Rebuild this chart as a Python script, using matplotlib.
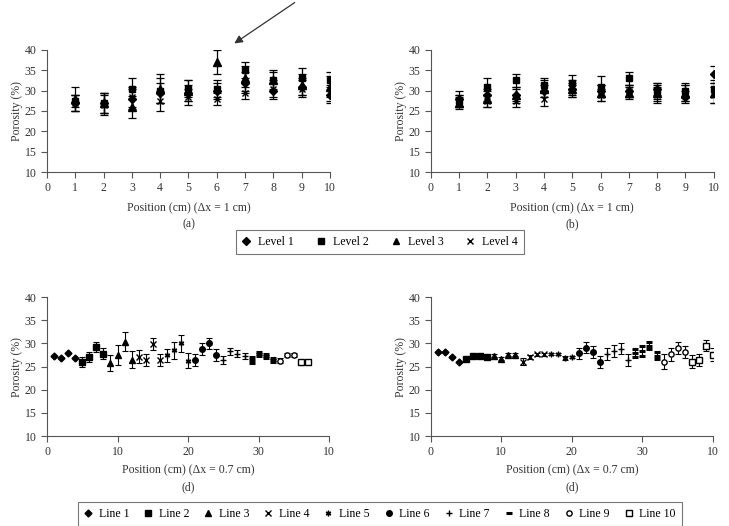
import matplotlib
matplotlib.use("Agg")
import matplotlib.pyplot as plt
import numpy as np

plt.rcParams['font.family'] = ['Liberation Serif', 'DejaVu Serif']
plt.rcParams['font.size'] = 8.5

# ---- top panels: 4 levels at positions 1..10 ----
pos_top = [1, 2, 3, 4, 5, 6, 7, 8, 9, 10]
level_names = ['Level 1', 'Level 2', 'Level 3', 'Level 4']

a_vals = [
    [27.0, 27.0, 28.0, 29.5, 29.5, 30.0, 32.0, 30.0, 31.0, 29.0],
    [27.5, 27.0, 30.5, 30.0, 30.5, 30.5, 35.0, 32.5, 33.0, 32.5],
    [28.0, 27.0, 26.0, 30.5, 30.0, 37.0, 33.0, 32.5, 31.5, 31.0],
    [27.0, 26.5, 28.5, 27.5, 28.5, 28.0, 29.5, 30.5, 30.5, 29.5],
]
a_errs = [
    [2.0, 2.5, 2.5, 2.5, 2.0, 2.0, 2.5, 2.0, 2.0, 2.0],
    [1.5, 2.5, 2.5, 3.0, 2.0, 2.0, 2.0, 2.5, 2.5, 2.0],
    [3.0, 2.5, 2.8, 3.5, 2.5, 3.0, 3.0, 2.0, 2.5, 2.5],
    [2.0, 2.5, 2.5, 2.5, 2.0, 1.5, 1.5, 2.0, 2.0, 2.0],
]

b_vals = [
    [28.0, 29.0, 29.0, 30.0, 30.5, 30.0, 30.0, 30.5, 28.5, 34.0],
    [27.5, 31.0, 32.5, 31.5, 32.0, 31.0, 33.0, 30.0, 30.0, 30.5],
    [27.0, 28.0, 29.0, 30.5, 30.5, 29.5, 29.5, 29.5, 29.5, 29.5],
    [27.5, 27.5, 27.5, 28.0, 30.0, 29.0, 30.0, 29.0, 29.5, 29.0],
]
b_errs = [
    [1.8, 1.5, 1.5, 1.5, 1.5, 1.5, 1.5, 1.5, 1.5, 2.0],
    [1.5, 2.0, 1.5, 1.5, 1.8, 2.5, 1.5, 2.0, 1.8, 2.0],
    [1.5, 2.0, 2.0, 2.0, 2.0, 2.0, 1.5, 2.0, 2.0, 2.5],
    [1.5, 1.5, 1.5, 1.8, 1.5, 1.5, 1.5, 2.0, 2.0, 2.0],
]

# ---- bottom panels: 10 lines ----
line_names = ['Line 1', 'Line 2', 'Line 3', 'Line 4', 'Line 5',
              'Line 6', 'Line 7', 'Line 8', 'Line 9', 'Line 10']

c_pos = [[1, 2, 3, 4], [5, 6, 7, 8], [9, 10, 11, 12], [13, 14, 15, 16],
         [17, 18, 19, 20], [21, 22, 23, 24], [25, 26, 27, 28],
         [29, 30, 31, 32], [33, 34, 35], [36, 37]]
c_vals = [[27.3, 26.8, 28.0, 26.8], [26.0, 27.0, 29.3, 27.8],
          [25.8, 27.5, 30.4, 26.5], [27.1, 26.4, 29.8, 26.5],
          [27.5, 28.5, 30.0, 26.3], [26.4, 28.9, 30.0, 27.6],
          [26.4, 28.3, 27.8, 27.3], [26.4, 27.8, 27.3, 26.4],
          [26.3, 27.5, 27.5], [25.9, 26.0]]
c_errs = [[0, 0, 0, 0], [1.15, 1.1, 1.1, 1.2],
          [1.7, 2.1, 2.0, 1.9], [1.4, 1.3, 1.3, 1.3],
          [1.4, 1.8, 1.8, 1.6], [1.3, 1.3, 1.2, 1.3],
          [0.8, 0.7, 0.7, 0.7], [0.65, 0.45, 0.5, 0.5],
          [0.5, 0.4, 0.4], [0.5, 0]]

d_pos = [[1, 2, 3, 4], [5, 6, 7, 8], [9, 10, 11, 12], [13, 14, 15, 16],
         [17, 18, 19, 20], [21, 22, 23, 24], [25, 26, 27, 28],
         [29, 30, 31, 32], [33, 34, 35, 36], [37, 38, 39, 40]]
d_vals = [[28.2, 28.2, 27.1, 26.1], [26.7, 27.2, 27.2, 27.1],
          [27.4, 26.7, 27.6, 27.6], [26.1, 27.1, 27.7, 27.7],
          [27.8, 27.7, 26.9, 27.1], [27.9, 29.1, 28.2, 26.0],
          [27.7, 28.4, 28.9, 26.4], [27.9, 28.3, 29.5, 27.4],
          [26.1, 27.7, 29.1, 28.1], [26.1, 26.4, 29.5, 27.6]]
d_errs = [[0, 0, 0, 0], [0.3, 0.2, 0.2, 0.2],
          [0.4, 0.3, 0.3, 0.3], [0.7, 0.5, 0.3, 0.3],
          [0.2, 0.2, 0.4, 0.3], [1.2, 1.25, 1.25, 1.25],
          [1.25, 1.3, 1.25, 1.25], [0.8, 1.1, 0.8, 0.8],
          [1.6, 1.4, 1.3, 1.25], [1.4, 1.25, 1.2, 1.35]]

level_styles = [dict(marker='D', ms=4.5, mfc='black'),
                dict(marker='s', ms=5, mfc='black'),
                dict(marker='^', ms=6, mfc='black'),
                dict(marker='x', ms=5, mfc='black')]
line_styles = [dict(marker='D', ms=3.5, mfc='black'),
               dict(marker='s', ms=3.8, mfc='black'),
               dict(marker='^', ms=4.5, mfc='black'),
               dict(marker='x', ms=3.8, mfc='black'),
               dict(marker=(6, 2, 0), ms=4, mfc='black'),
               dict(marker='o', ms=4, mfc='black'),
               dict(marker='+', ms=4.5, mfc='black'),
               dict(marker='_', ms=4, mfc='black', mew=2.2),
               dict(marker='o', ms=3.8, mfc='white'),
               dict(marker='s', ms=3.8, mfc='white')]

GRAY = '#555555'


def style_axes(ax, xlim, xticks, xticklabels, xlabel, tag, lab_y, tag_y):
    ax.set_ylim(10, 40)
    ax.set_yticks(range(10, 41, 5))
    ax.set_xlim(*xlim)
    ax.set_xticks(xticks)
    ax.set_xticklabels(xticklabels)
    for s in ['top', 'right']:
        ax.spines[s].set_visible(False)
    for s in ['left', 'bottom']:
        ax.spines[s].set_color(GRAY)
        ax.spines[s].set_linewidth(0.8)
    ax.tick_params(colors=GRAY, labelcolor='#333333', length=4, width=0.8)
    ax.set_ylabel('Porosity (%)', color='#333333', labelpad=1)
    ax.text(0.5, lab_y, xlabel, transform=ax.transAxes, ha='center', va='center',
            color='#333333')
    ax.text(0.5, tag_y, tag, transform=ax.transAxes, ha='center', va='center',
            color='#333333')


fig = plt.figure(figsize=(7.29, 5.26), dpi=100)
ax_a = fig.add_axes([0.0645, 0.673, 0.388, 0.232])
ax_b = fig.add_axes([0.591, 0.673, 0.388, 0.232])
ax_c = fig.add_axes([0.0645, 0.171, 0.387, 0.264])
ax_d = fig.add_axes([0.591, 0.171, 0.387, 0.264])

for ax, vals, errs in [(ax_a, a_vals, a_errs), (ax_b, b_vals, b_errs)]:
    for name, v, e, st in zip(level_names, vals, errs, level_styles):
        ax.errorbar(pos_top, v, yerr=e, ls='none', color='black', mec='black',
                    capsize=3, elinewidth=0.9, capthick=0.9, label=name, **st)
    style_axes(ax, (0, 10), range(0, 11), [str(i) for i in range(0, 11)],
               'Position (cm) (\u0394x = 1 cm)', '(a)' if ax is ax_a else '(b)',
               -0.295, -0.43)

for ax, ps, vals, errs in [(ax_c, c_pos, c_vals, c_errs), (ax_d, d_pos, d_vals, d_errs)]:
    for name, p, v, e, st in zip(line_names, ps, vals, errs, line_styles):
        ax.errorbar(p, v, yerr=e, ls='none', color='black', mec='black',
                    capsize=2.5, elinewidth=0.8, capthick=0.8, label=name, **st)
    style_axes(ax, (0, 40), [0, 10, 20, 30, 40], ['0', '10', '20', '30', '10'],
               'Position (cm) (\u0394x = 0.7 cm)', '(d)', -0.245, -0.37)

# legends
h, l = ax_a.get_legend_handles_labels()
h = [x[0] for x in h]
leg1 = fig.legend(h, l, loc='center', bbox_to_anchor=(0.521, 0.54), ncol=4,
                  frameon=True, fancybox=False, handlelength=0.8, handletextpad=0.6,
                  columnspacing=1.9, borderpad=0.5, borderaxespad=0, fontsize=8.5,
                  markerscale=0.8)
leg1.get_frame().set_edgecolor(GRAY)
leg1.get_frame().set_linewidth(0.8)

h, l = ax_c.get_legend_handles_labels()
h = [x[0] for x in h]
leg2 = fig.legend(h, l, loc='center', bbox_to_anchor=(0.521, 0.023), ncol=10,
                  frameon=True, fancybox=False, handlelength=0.8, handletextpad=0.5,
                  columnspacing=1.2, borderpad=0.5, fontsize=8.5)
leg2.get_frame().set_edgecolor(GRAY)
leg2.get_frame().set_linewidth(0.8)

# arrow pointing at the outlier in (a)
fig.patches.append(matplotlib.patches.FancyArrowPatch(
    (297 / 729, 1 - 1 / 526), (232 / 729, 1 - 45 / 526),
    transform=fig.transFigure, arrowstyle='-|>', mutation_scale=12,
    color='#333333', lw=0.9))

fig.savefig('out.png', dpi=100)
